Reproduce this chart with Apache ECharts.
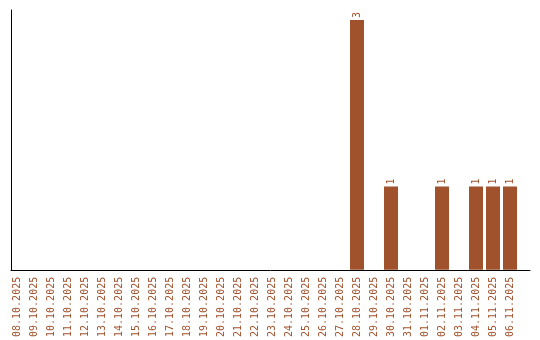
<!DOCTYPE html>
<html>
<head>
<meta charset="utf-8">
<style>html,body{margin:0;padding:0;background:#fff;}#c{width:540px;height:340px;}</style>
<script src="https://cdn.jsdelivr.net/npm/echarts@6/dist/echarts.min.js"></script>
</head>
<body>
<div id="c"></div>
<script>
const categories = [
  "08.10.2025","09.10.2025","10.10.2025","11.10.2025","12.10.2025","13.10.2025",
  "14.10.2025","15.10.2025","16.10.2025","17.10.2025","18.10.2025","19.10.2025",
  "20.10.2025","21.10.2025","22.10.2025","23.10.2025","24.10.2025","25.10.2025",
  "26.10.2025","27.10.2025","28.10.2025","29.10.2025","30.10.2025","31.10.2025",
  "01.11.2025","02.11.2025","03.11.2025","04.11.2025","05.11.2025","06.11.2025"
];
const values = [
  0,0,0,0,0,0,
  0,0,0,0,0,0,
  0,0,0,0,0,0,
  0,0,3,0,1,0,
  0,1,0,1,1,1
];
const yMax = 3.12;
const barColor = '#A0522D';
const textColor = '#A0522D';
const fontFamily = 'DejaVu Sans Mono';

const chart = echarts.init(document.getElementById('c'), null, {renderer: 'canvas'});
chart.setOption({
  animation: false,
  backgroundColor: '#ffffff',
  grid: [
    {left: 8.5, width: 510, top: 10, bottom: 70},
    {left: 11, right: 10, top: 10, bottom: 70}
  ],
  xAxis: [
    {
      gridIndex: 0, type: 'category', data: categories,
      axisLine: {show: false}, axisTick: {show: false},
      axisLabel: {rotate: 90, interval: 0, margin: 7, color: textColor, fontFamily: fontFamily, fontSize: 10}
    },
    {
      gridIndex: 1, type: 'value', min: 0, max: 1,
      axisLine: {show: true, lineStyle: {color: '#000', width: 1}},
      axisTick: {show: false}, axisLabel: {show: false}, splitLine: {show: false}
    }
  ],
  yAxis: [
    {gridIndex: 0, type: 'value', min: 0, max: yMax, show: false},
    {
      gridIndex: 1, type: 'value', min: 0, max: 1,
      axisLine: {show: true, lineStyle: {color: '#000', width: 1}},
      axisTick: {show: false}, axisLabel: {show: false}, splitLine: {show: false}
    }
  ],
  series: [{
    type: 'bar', xAxisIndex: 0, yAxisIndex: 0,
    data: values, barWidth: 14,
    itemStyle: {color: barColor},
    label: {
      show: true, position: 'top', rotate: 90, align: 'left', verticalAlign: 'middle',
      distance: 2, color: textColor, fontFamily: fontFamily, fontSize: 10,
      formatter: p => p.value ? String(p.value) : ''
    }
  }]
});
</script>
</body>
</html>
